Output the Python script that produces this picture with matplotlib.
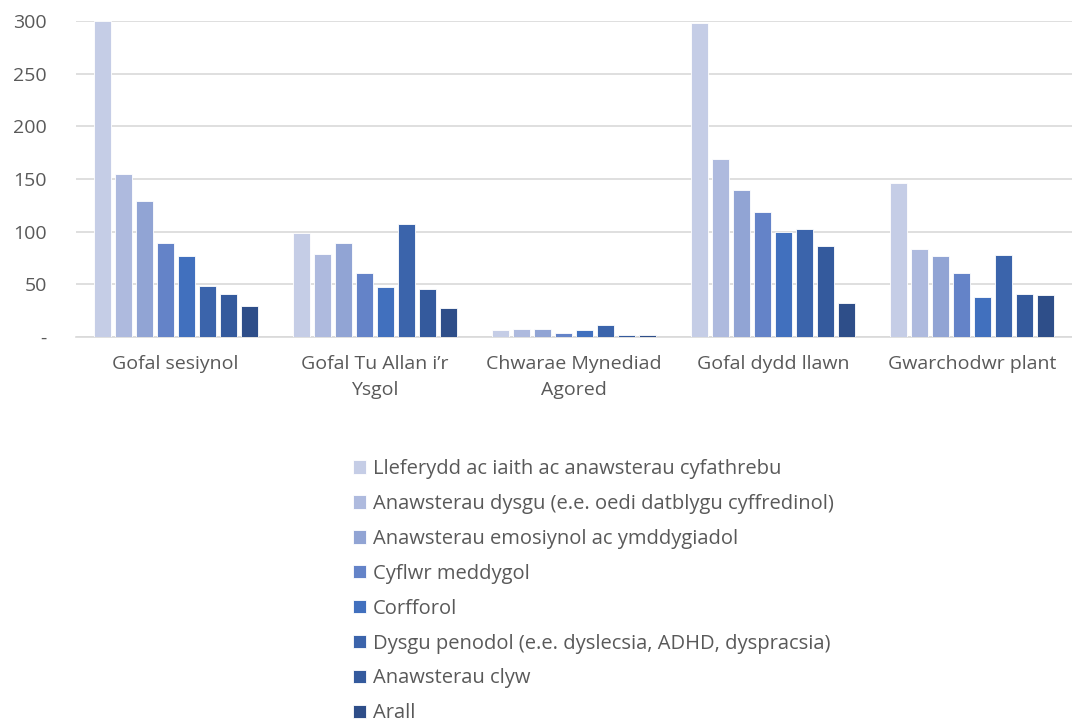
import numpy as np
import matplotlib
matplotlib.use("Agg")
import matplotlib.pyplot as plt

plt.rcParams['font.family'] = ['Open Sans', 'DejaVu Sans']

# Categorïau a chyfresi
categories = ['Gofal sesiynol', 'Gofal Tu Allan i’r\nYsgol', 'Chwarae Mynediad\nAgored',
              'Gofal dydd llawn', 'Gwarchodwr plant']
series_names = ['Lleferydd ac iaith ac anawsterau cyfathrebu',
                'Anawsterau dysgu (e.e. oedi datblygu cyffredinol)',
                'Anawsterau emosiynol ac ymddygiadol',
                'Cyflwr meddygol',
                'Corfforol',
                'Dysgu penodol (e.e. dyslecsia, ADHD, dyspracsia)',
                'Anawsterau clyw',
                'Arall']
values = [
    [300, 99, 7, 298, 146],
    [155, 79, 8, 169, 84],
    [129, 89, 8, 140, 77],
    [89, 61, 4, 119, 61],
    [77, 47, 7, 100, 38],
    [48, 107, 11, 103, 78],
    [41, 46, 2, 86, 41],
    [29, 28, 2, 32, 40],
]
colors = ['#C5CDE6', '#AEBADE', '#91A4D4', '#6483C8',
          '#4170BE', '#3B64AB', '#345A9D', '#2E4E89']

fig = plt.figure(figsize=(10.72, 7.28), dpi=100)
ax = fig.add_axes([76 / 1072, 1 - 337 / 728, (1072 - 76) / 1072, 316 / 728])

x = np.arange(len(categories))
pitch = 0.1054
width = 0.086
for i, (name, vals) in enumerate(zip(series_names, values)):
    offs = (i - 3.5) * pitch
    ax.bar(x + offs, vals, width=width, color=colors[i], label=name,
           edgecolor='white', linewidth=0.6, zorder=3)

ax.set_xlim(-0.5, len(categories) - 0.5)
ax.set_ylim(0, 300)
ax.set_yticks([0, 50, 100, 150, 200, 250, 300])
ax.set_yticklabels(['-', '50', '100', '150', '200', '250', '300'])
ax.set_xticks(x)
ax.set_xticklabels(categories, linespacing=1.55)
ax.tick_params(axis='both', length=0, labelsize=14, labelcolor='#595959')
ax.tick_params(axis='x', pad=13)
ax.tick_params(axis='y', pad=21)
ax.grid(axis='y', color='#D9D9D9', linewidth=1.2, zorder=0)
for s in ['top', 'right', 'left']:
    ax.spines[s].set_visible(False)
ax.spines['bottom'].set_color('#D9D9D9')
ax.spines['bottom'].set_linewidth(1.2)

fig.legend(loc='upper left', bbox_to_anchor=(345 / 1072, 1 - 451 / 728),
           frameon=False, fontsize=14.5, labelcolor='#595959',
           handlelength=0.65, handleheight=0.65, handletextpad=0.35,
           labelspacing=0.74, borderaxespad=0)

fig.savefig('out.png', dpi=100)
